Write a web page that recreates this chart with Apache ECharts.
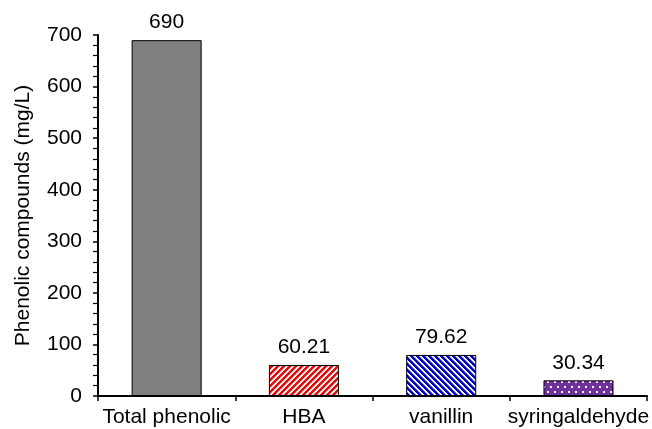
<!DOCTYPE html>
<html>
<head>
<meta charset="utf-8">
<script src="https://cdn.jsdelivr.net/npm/echarts@6/dist/echarts.min.js"></script>
<style>
html,body{margin:0;padding:0;background:#fff;}
#chart{width:652px;height:429px;}
</style>
</head>
<body>
<div id="chart"></div>
<script>
var categories = ['Total phenolic', 'HBA', 'vanillin', 'syringaldehyde'];
var values = [690, 60.21, 79.62, 30.34];
var valueLabels = ['690', '60.21', '79.62', '30.34'];
var yTicks = [0, 100, 200, 300, 400, 500, 600, 700];

function makeTile(w, h, fn) {
  var c = document.createElement('canvas');
  c.width = w; c.height = h;
  var ctx = c.getContext('2d');
  var img = ctx.createImageData(w, h);
  for (var y = 0; y < h; y++) {
    for (var x = 0; x < w; x++) {
      var col = fn(x, y);
      var i = (y * w + x) * 4;
      img.data[i] = col[0]; img.data[i+1] = col[1]; img.data[i+2] = col[2]; img.data[i+3] = 255;
    }
  }
  ctx.putImageData(img, 0, 0);
  return c;
}
var WHITE = [255,255,255];
var redTile = makeTile(6, 6, function (x, y) {
  var m = (x + y) % 6;
  return m < 3 ? [255,0,0] : (m === 3 ? [255,150,150] : WHITE);
});
var blueTile = makeTile(6, 6, function (x, y) {
  var m = (((x - y) % 6) + 6) % 6;
  return m < 3 ? [0,0,220] : (m === 3 ? [120,120,240] : WHITE);
});
var purpleTile = makeTile(7, 10, function (x, y) {
  var dot = (y >= 1 && y < 3 && x >= 1 && x < 3) || (y >= 6 && y < 8 && x >= 4 && x < 6);
  return dot ? WHITE : [112,48,160];
});

var fills = [
  '#808080',
  { image: redTile, repeat: 'repeat' },
  { image: blueTile, repeat: 'repeat' },
  { image: purpleTile, repeat: 'repeat' }
];

var chart = echarts.init(document.getElementById('chart'), null, { renderer: 'canvas' });
var font = 'Arial, "Liberation Sans", sans-serif';
chart.setOption({
  animation: false,
  backgroundColor: '#fff',
  grid: { left: 98, right: 4, top: 35, bottom: 33, containLabel: false },
  xAxis: {
    type: 'category',
    data: categories,
    axisLine: { lineStyle: { color: '#000', width: 2 } },
    axisTick: { show: true, alignWithLabel: false, length: 5, inside: false, lineStyle: { color: '#000', width: 1.5 } },
    axisLabel: { color: '#000', fontSize: 21, fontFamily: font, margin: 11, interval: 0 },
    splitLine: { show: false }
  },
  yAxis: {
    type: 'value',
    min: yTicks[0],
    max: yTicks[yTicks.length - 1],
    interval: 100,
    name: 'Phenolic compounds (mg/L)',
    nameLocation: 'middle',
    nameRotate: 90,
    nameGap: 64,
    nameTextStyle: { color: '#000', fontSize: 21, fontFamily: font },
    axisLine: { show: true, lineStyle: { color: '#000', width: 2 } },
    axisTick: { show: true, length: 5, inside: false, lineStyle: { color: '#000', width: 1.5 } },
    minorTick: { show: true, splitNumber: 5, length: 5, lineStyle: { color: '#000', width: 1.2 } },
    axisLabel: { color: '#000', fontSize: 21, fontFamily: font, margin: 16 },
    splitLine: { show: false }
  },
  series: [{
    type: 'bar',
    barWidth: '51%',
    data: values.map(function (v, i) {
      return { value: v, itemStyle: { color: fills[i], borderColor: '#000', borderWidth: 1 } };
    }),
    label: {
      show: true,
      position: 'top',
      distance: 7,
      color: '#000',
      fontSize: 21,
      fontFamily: font,
      formatter: function (p) { return valueLabels[p.dataIndex]; }
    }
  }]
});
</script>
</body>
</html>
